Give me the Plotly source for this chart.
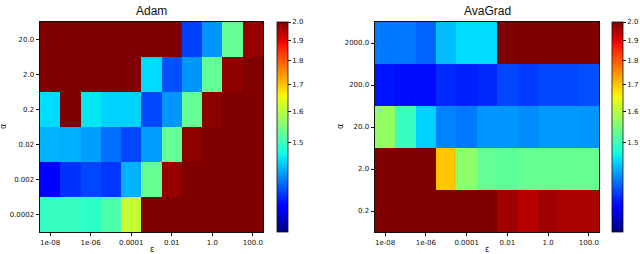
import numpy as np
import plotly.graph_objects as go

# ---------------- data ----------------
eps_labels = ["1e-08", "1e-07", "1e-06", "1e-05", "0.0001", "0.001", "0.01", "0.1", "1.0", "10.0", "100.0"]
eps_tick_labels = ["1e-08", "1e-06", "0.0001", "0.01", "1.0", "100.0"]

adam_alpha = ["20.0", "2.0", "0.2", "0.02", "0.002", "0.0002"]
adam_loss = [
    [2.0, 2.0, 2.0, 2.0, 2.0, 2.0, 2.0, 1.376, 1.416, 1.528, 1.977],
    [2.0, 2.0, 2.0, 2.0, 2.0, 1.452, 1.383, 1.416, 1.528, 1.983, 2.0],
    [1.452, 2.0, 1.458, 1.447, 1.447, 1.379, 1.416, 1.528, 1.987, 2.0, 2.0],
    [1.431, 1.429, 1.421, 1.397, 1.379, 1.421, 1.528, 1.987, 2.0, 2.0, 2.0],
    [1.346, 1.370, 1.379, 1.372, 1.431, 1.530, 1.977, 2.0, 2.0, 2.0, 2.0],
    [1.494, 1.495, 1.488, 1.513, 1.610, 2.0, 2.0, 2.0, 2.0, 2.0, 2.0],
]

avagrad_alpha = ["2000.0", "200.0", "20.0", "2.0", "0.2"]
avagrad_loss = [
    [1.402, 1.402, 1.392, 1.436, 1.452, 1.452, 2.0, 2.0, 2.0, 2.0, 2.0],
    [1.357, 1.353, 1.353, 1.366, 1.362, 1.366, 1.379, 1.374, 1.379, 1.379, 1.383],
    [1.568, 1.495, 1.447, 1.407, 1.402, 1.416, 1.416, 1.411, 1.418, 1.418, 1.416],
    [2.0, 2.0, 2.0, 1.697, 1.561, 1.528, 1.522, 1.528, 1.530, 1.530, 1.530],
    [2.0, 2.0, 2.0, 2.0, 2.0, 2.0, 1.967, 1.942, 1.967, 1.956, 1.956],
]

cbar_ticks = [1.5, 1.6, 1.7, 1.8, 1.9, 2.0]
vmin, vmax = 1.3, 2.0

# ---------------- colour handling ----------------
def jet(t):
    red = [(0, 0), (0.35, 0), (0.66, 1), (0.89, 1), (1, 0.5)]
    green = [(0, 0), (0.125, 0), (0.375, 1), (0.64, 1), (0.91, 0), (1, 0)]
    blue = [(0, 0.5), (0.11, 1), (0.34, 1), (0.65, 0), (1, 0)]
    def interp(seg):
        xs = [p[0] for p in seg]
        ys = [p[1] for p in seg]
        return float(np.interp(t, xs, ys))
    return "rgb(%d,%d,%d)" % (round(interp(red) * 255), round(interp(green) * 255), round(interp(blue) * 255))

jet_scale = [[float(t), jet(t)] for t in np.linspace(0, 1, 101)]

def tr(v):
    return np.log(np.asarray(v, dtype=float) - 1.0)

zmin, zmax = float(tr(vmin)), float(tr(vmax))

W, H = 640, 254
def px_x(p):
    return p / W
def px_y(p):
    return 1 - p / H

tickfont = dict(family="DejaVu Sans", size=7, color="#111")

def cbar(xpx):
    return dict(
        x=px_x(xpx), xanchor="left", xpad=0,
        y=px_y(127), yanchor="middle", ypad=0,
        len=210, lenmode="pixels", thickness=11,
        tickvals=[float(tr(t)) for t in cbar_ticks],
        ticktext=["%.1f" % t for t in cbar_ticks],
        ticks="outside", ticklen=3, tickwidth=0.8, tickcolor="#111",
        tickfont=tickfont, outlinewidth=0.8, outlinecolor="#111",
    )

fig = go.Figure()
fig.add_trace(go.Heatmap(
    z=tr(adam_loss), x=list(range(len(eps_labels))), y=list(range(len(adam_alpha))),
    customdata=np.array(adam_loss), hovertemplate="%{customdata}<extra></extra>",
    colorscale=jet_scale, zmin=zmin, zmax=zmax, xaxis="x", yaxis="y",
    colorbar=cbar(277),
))
fig.add_trace(go.Heatmap(
    z=tr(avagrad_loss), x=list(range(len(eps_labels))), y=list(range(len(avagrad_alpha))),
    customdata=np.array(avagrad_loss), hovertemplate="%{customdata}<extra></extra>",
    colorscale=jet_scale, zmin=zmin, zmax=zmax, xaxis="x2", yaxis="y2",
    colorbar=cbar(612),
))

eps_tickvals = [eps_labels.index(l) for l in eps_tick_labels]
axis_common = dict(showline=True, mirror=True, linecolor="#111", linewidth=0.8,
                   ticks="outside", ticklen=3.5, tickwidth=0.8, tickcolor="#111",
                   tickfont=tickfont, showgrid=False, zeroline=False)

fig.update_layout(
    width=W, height=H, margin=dict(l=0, r=0, t=0, b=0),
    paper_bgcolor="white", plot_bgcolor="white",
    xaxis=dict(domain=[px_x(40), px_x(263)], anchor="y", range=[-0.5, 10.5],
               tickvals=eps_tickvals, ticktext=eps_tick_labels, **axis_common),
    yaxis=dict(domain=[px_y(232), px_y(22)], anchor="x", range=[len(adam_alpha) - 0.5, -0.5],
               tickvals=list(range(len(adam_alpha))), ticktext=adam_alpha, **axis_common),
    xaxis2=dict(domain=[px_x(375), px_x(599)], anchor="y2", range=[-0.5, 10.5],
                tickvals=eps_tickvals, ticktext=eps_tick_labels, **axis_common),
    yaxis2=dict(domain=[px_y(232), px_y(22)], anchor="x2", range=[len(avagrad_alpha) - 0.5, -0.5],
                tickvals=list(range(len(avagrad_alpha))), ticktext=avagrad_alpha, **axis_common),
    showlegend=False,
)

title_font = dict(family="Liberation Sans", size=12, color="#111")
label_font = dict(family="DejaVu Sans", size=8, color="#111")
annos = [
    dict(text="Adam", x=px_x(151.5), y=px_y(11), font=title_font),
    dict(text="AvaGrad", x=px_x(487), y=px_y(11), font=title_font),
    dict(text="ε", x=px_x(151.5), y=px_y(249), font=label_font),
    dict(text="ε", x=px_x(487), y=px_y(249), font=label_font),
    dict(text="α", x=px_x(3), y=px_y(127), font=label_font, textangle=-90),
    dict(text="α", x=px_x(340), y=px_y(127), font=label_font, textangle=-90),
]
for a in annos:
    fig.add_annotation(xref="paper", yref="paper", xanchor="center", yanchor="middle",
                       showarrow=False, **a)

fig.write_html(
    "out.html",
    config={"displayModeBar": False},
    post_script="document.body.style.margin='0';document.body.style.padding='0';"
                "document.body.style.overflow='hidden';",
)
